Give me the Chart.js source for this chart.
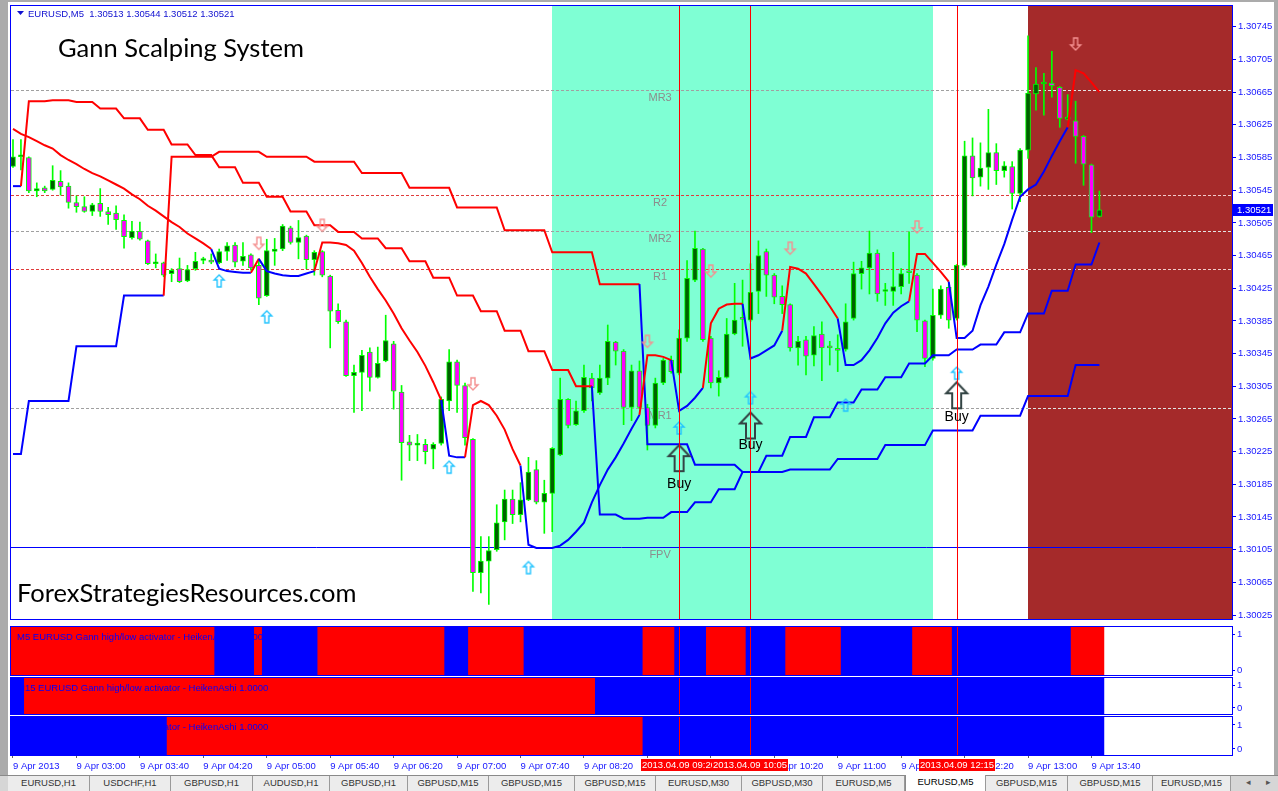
<!DOCTYPE html>
<html>
<head>
  <meta charset="UTF-8">
  <title>Gann Scalping System - EURUSD,M5</title>
  <script src="https://cdn.jsdelivr.net/npm/chart.js"></script>
  <style>
    body { margin: 0; width: 1278px; height: 791px; overflow: hidden; position: relative; background: #ababab; font-family: "Liberation Sans", Arial, sans-serif; }
    #win { position: absolute; left: 8px; top: 2px; width: 1266px; height: 773px; background: #fff; }
    canvas { position: absolute; left: 0; }
    #tabs { position: absolute; left: 0; top: 775px; width: 1278px; height: 16px; background: #d6d6d6; border-top: 1px solid #8a8a8a; box-sizing: border-box; }
    .tab { position: absolute; top: 0; height: 15px; line-height: 14px; font-size: 9.5px; color: #333; text-align: center; background: #ececec; border-right: 1px solid #9a9a9a; box-sizing: border-box; white-space: nowrap; }
    .tab.on { background: #fff; color: #000; top: -1px; height: 16px; border-left: 1px solid #8a8a8a; }
    .nav { position: absolute; top: 1px; font-size: 9px; color: #555; }
  </style>
</head>
<body>
  <div id="win"></div>
  <canvas id="main" width="1278" height="625" style="top:0"></canvas>
  <canvas id="p1" width="1278" height="52" style="top:625px"></canvas>
  <canvas id="p2" width="1278" height="40" style="top:676px"></canvas>
  <canvas id="p3" width="1278" height="60" style="top:715px"></canvas>
  <div id="tabs"></div>

  <script>
    // EURUSD M5, bar 0 = 9 Apr 2013 02:20
    const opens = [
      1.30574,1.30586,1.30585,1.30544,1.30548,1.30546,1.30556,1.30550,1.30530,1.30525,
      1.30519,1.30529,1.30519,1.30517,1.30508,1.30487,1.30495,1.30483,1.30455,1.30456,
      1.30443,1.30449,1.30434,1.30449,1.30459,1.30458,1.30456,1.30470,1.30478,1.30458,
      1.30466,1.30453,1.30416,1.30470,1.30473,1.30499,1.30481,1.30489,1.30460,1.30470,
      1.30440,1.30398,1.30384,1.30318,1.30322,1.30347,1.30316,1.30336,1.30357,1.30298,
      1.30237,1.30233,1.30234,1.30228,1.30235,1.30287,1.30335,1.30306,1.30240,1.30077,
      1.30091,1.30105,1.30139,1.30167,1.30148,1.30166,1.30203,1.30163,1.30174,1.30221,
      1.30289,1.30258,1.30275,1.30315,1.30297,1.30315,1.30359,1.30348,1.30279,1.30324,
      1.30279,1.30257,1.30309,1.30337,1.30321,1.30364,1.30435,1.30473,1.30364,1.30309,
      1.30316,1.30369,1.30388,1.30386,1.30421,1.30470,1.30441,1.30415,1.30405,1.30352,
      1.30362,1.30343,1.30369,1.30353,1.30350,1.30350,1.30388,1.30443,1.30450,1.30468,
      1.30421,1.30421,1.30427,1.30445,1.30441,1.30385,1.30339,1.30392,1.30426,1.30388,
      1.30453,1.30587,1.30561,1.30573,1.30591,1.30569,1.30574,1.30541,1.30594,1.30663,
      1.30675,1.30676,1.30671,1.30632,1.30630,1.30611,1.30576,1.30513
    ];
    const highs = [
      1.30607,1.30607,1.30586,1.30554,1.30550,1.30575,1.30569,1.30554,1.30538,1.30537,
      1.30529,1.30547,1.30524,1.30526,1.30515,1.30507,1.30506,1.30484,1.30467,1.30457,
      1.30449,1.30462,1.30453,1.30469,1.30463,1.30467,1.30473,1.30481,1.30481,1.30481,
      1.30467,1.30461,1.30485,1.30486,1.30503,1.30501,1.30508,1.30490,1.30471,1.30471,
      1.30441,1.30406,1.30386,1.30331,1.30349,1.30352,1.30353,1.30392,1.30360,1.30306,
      1.30245,1.30246,1.30240,1.30236,1.30292,1.30350,1.30337,1.30309,1.30241,1.30121,
      1.30121,1.30160,1.30178,1.30178,1.30187,1.30218,1.30214,1.30190,1.30230,1.30315,
      1.30290,1.30287,1.30331,1.30321,1.30331,1.30380,1.30360,1.30350,1.30331,1.30336,
      1.30283,1.30315,1.30339,1.30342,1.30374,1.30459,1.30495,1.30474,1.30366,1.30324,
      1.30388,1.30431,1.30435,1.30455,1.30483,1.30473,1.30443,1.30428,1.30406,1.30366,
      1.30366,1.30378,1.30384,1.30360,1.30368,1.30406,1.30457,1.30458,1.30495,1.30472,
      1.30431,1.30469,1.30449,1.30494,1.30443,1.30386,1.30424,1.30428,1.30431,1.30454,
      1.30605,1.30609,1.30603,1.30644,1.30602,1.30580,1.30580,1.30596,1.30734,1.30695,
      1.30688,1.30715,1.30672,1.30662,1.30654,1.30612,1.30577,1.30544
    ];
    const lows = [
      1.30573,1.30570,1.30542,1.30537,1.30542,1.30545,1.30539,1.30523,1.30518,1.30518,
      1.30514,1.30513,1.30503,1.30497,1.30474,1.30485,1.30484,1.30454,1.30450,1.30439,
      1.30433,1.30432,1.30433,1.30447,1.30455,1.30455,1.30455,1.30459,1.30451,1.30453,
      1.30447,1.30405,1.30415,1.30453,1.30471,1.30479,1.30461,1.30449,1.30441,1.30439,
      1.30352,1.30382,1.30317,1.30273,1.30275,1.30299,1.30315,1.30335,1.30277,1.30190,
      1.30214,1.30214,1.30210,1.30204,1.30233,1.30275,1.30273,1.30233,1.30054,1.30052,
      1.30038,1.30103,1.30117,1.30137,1.30139,1.30165,1.30161,1.30125,1.30127,1.30220,
      1.30254,1.30257,1.30273,1.30287,1.30295,1.30307,1.30331,1.30258,1.30263,1.30278,
      1.30227,1.30254,1.30307,1.30321,1.30319,1.30360,1.30433,1.30360,1.30303,1.30293,
      1.30315,1.30368,1.30354,1.30384,1.30394,1.30415,1.30406,1.30394,1.30348,1.30331,
      1.30319,1.30330,1.30312,1.30331,1.30323,1.30348,1.30386,1.30424,1.30418,1.30409,
      1.30404,1.30404,1.30418,1.30431,1.30372,1.30329,1.30337,1.30388,1.30376,1.30386,
      1.30451,1.30538,1.30550,1.30546,1.30552,1.30561,1.30522,1.30531,1.30584,1.30643,
      1.30637,1.30659,1.30622,1.30631,1.30578,1.30551,1.30493,1.30512
    ];
    const closes = [
      1.30586,1.30587,1.30544,1.30547,1.30544,1.30557,1.30549,1.30530,1.30525,1.30519,
      1.30527,1.30519,1.30515,1.30509,1.30488,1.30495,1.30485,1.30455,1.30456,1.30441,
      1.30447,1.30433,1.30448,1.30458,1.30460,1.30457,1.30470,1.30477,1.30457,1.30464,
      1.30450,1.30413,1.30471,1.30473,1.30501,1.30481,1.30487,1.30460,1.30469,1.30441,
      1.30397,1.30384,1.30318,1.30322,1.30343,1.30316,1.30333,1.30361,1.30299,1.30236,
      1.30233,1.30234,1.30225,1.30234,1.30289,1.30335,1.30306,1.30242,1.30077,1.30091,
      1.30104,1.30138,1.30167,1.30148,1.30166,1.30200,1.30163,1.30174,1.30229,1.30289,
      1.30257,1.30275,1.30316,1.30303,1.30315,1.30360,1.30348,1.30279,1.30324,1.30279,
      1.30257,1.30309,1.30337,1.30323,1.30364,1.30437,1.30474,1.30362,1.30309,1.30316,
      1.30369,1.30386,1.30387,1.30420,1.30465,1.30441,1.30414,1.30405,1.30352,1.30360,
      1.30342,1.30367,1.30352,1.30352,1.30349,1.30384,1.30443,1.30450,1.30468,1.30418,
      1.30422,1.30427,1.30443,1.30444,1.30386,1.30339,1.30392,1.30424,1.30386,1.30453,
      1.30587,1.30560,1.30572,1.30591,1.30569,1.30575,1.30541,1.30594,1.30664,1.30675,
      1.30676,1.30673,1.30633,1.30633,1.30611,1.30577,1.30512,1.30521
    ];

    // Gann high/low activator lines (M5, M15, M30)
    const m5Line = [
      1.30620,1.30614,1.30610,1.30605,1.30600,1.30596,1.30588,1.30582,1.30577,1.30571,
      1.30566,1.30562,1.30557,1.30552,1.30547,1.30540,1.30534,1.30526,1.30520,1.30513,
      1.30506,1.30500,1.30492,1.30486,1.30480,1.30473,1.30449,1.30446,1.30445,1.30444,
      1.30444,1.30461,1.30446,1.30443,1.30441,1.30440,1.30440,1.30443,1.30446,1.30481,
      1.30481,1.30480,1.30478,1.30471,1.30456,1.30439,1.30424,1.30410,1.30394,1.30376,
      1.30361,1.30347,1.30330,1.30310,1.30288,1.30220,1.30218,1.30218,1.30282,1.30287,
      1.30282,1.30269,1.30252,1.30228,1.30208,1.30111,1.30107,1.30107,1.30107,1.30110,
      1.30117,1.30127,1.30138,1.30163,1.30184,1.30203,1.30218,1.30235,1.30253,1.30270,
      1.30343,1.30343,1.30341,1.30337,1.30275,1.30281,1.30291,1.30303,1.30382,1.30400,
      1.30405,1.30406,1.30406,1.30339,1.30343,1.30349,1.30355,1.30373,1.30451,1.30449,
      1.30443,1.30430,1.30417,1.30403,1.30388,1.30331,1.30331,1.30337,1.30349,1.30364,
      1.30382,1.30395,1.30403,1.30409,1.30467,1.30467,1.30456,1.30445,1.30433,1.30364,
      1.30364,1.30373,1.30404,1.30427,1.30454,1.30479,1.30509,1.30537,1.30546,1.30552,
      1.30568,1.30587,1.30605,1.30622,1.30692,1.30688,1.30677,1.30665
    ];
    const m15Line = [
      1.30550,1.30550,1.30654,1.30654,1.30654,1.30655,1.30655,1.30655,1.30653,1.30653,
      1.30653,1.30645,1.30645,1.30645,1.30633,1.30633,1.30633,1.30619,1.30619,1.30619,
      1.30601,1.30601,1.30601,1.30588,1.30588,1.30588,1.30573,1.30573,1.30573,1.30554,
      1.30554,1.30554,1.30537,1.30537,1.30537,1.30519,1.30519,1.30519,1.30502,1.30502,
      1.30502,1.30494,1.30494,1.30494,1.30486,1.30486,1.30486,1.30474,1.30474,1.30474,
      1.30458,1.30458,1.30458,1.30438,1.30438,1.30438,1.30416,1.30416,1.30416,1.30397,
      1.30397,1.30397,1.30373,1.30373,1.30373,1.30348,1.30348,1.30348,1.30325,1.30325,
      1.30325,1.30305,1.30305,1.30305,1.30148,1.30148,1.30148,1.30143,1.30143,1.30143,
      1.30144,1.30144,1.30144,1.30151,1.30151,1.30151,1.30163,1.30163,1.30163,1.30179,
      1.30179,1.30179,1.30200,1.30200,1.30200,1.30220,1.30220,1.30220,1.30243,1.30243,
      1.30243,1.30267,1.30267,1.30267,1.30285,1.30285,1.30285,1.30301,1.30301,1.30301,
      1.30316,1.30316,1.30316,1.30333,1.30333,1.30333,1.30343,1.30343,1.30343,1.30350,
      1.30350,1.30350,1.30356,1.30356,1.30356,1.30371,1.30371,1.30371,1.30394,1.30394,
      1.30394,1.30422,1.30422,1.30422,1.30454,1.30454,1.30454,1.30481
    ];
    const m30Line = [
      1.30222,1.30222,1.30287,1.30287,1.30287,1.30287,1.30287,1.30287,1.30354,1.30354,
      1.30354,1.30354,1.30354,1.30354,1.30416,1.30416,1.30416,1.30416,1.30416,1.30416,
      1.30586,1.30586,1.30586,1.30586,1.30586,1.30586,1.30592,1.30592,1.30592,1.30592,
      1.30592,1.30592,1.30586,1.30586,1.30586,1.30586,1.30586,1.30586,1.30580,1.30580,
      1.30580,1.30580,1.30580,1.30580,1.30566,1.30566,1.30566,1.30566,1.30566,1.30566,
      1.30548,1.30548,1.30548,1.30548,1.30548,1.30548,1.30524,1.30524,1.30524,1.30524,
      1.30524,1.30524,1.30496,1.30496,1.30496,1.30496,1.30496,1.30496,1.30469,1.30469,
      1.30469,1.30469,1.30469,1.30469,1.30430,1.30430,1.30430,1.30430,1.30430,1.30430,
      1.30234,1.30234,1.30234,1.30234,1.30234,1.30234,1.30209,1.30209,1.30209,1.30209,
      1.30209,1.30209,1.30200,1.30200,1.30200,1.30200,1.30200,1.30200,1.30203,1.30203,
      1.30203,1.30203,1.30203,1.30203,1.30216,1.30216,1.30216,1.30216,1.30216,1.30216,
      1.30233,1.30233,1.30233,1.30233,1.30233,1.30233,1.30251,1.30251,1.30251,1.30251,
      1.30251,1.30251,1.30269,1.30269,1.30269,1.30269,1.30269,1.30269,1.30293,1.30293,
      1.30293,1.30293,1.30293,1.30293,1.30331,1.30331,1.30331,1.30331
    ];

    // activator state runs: first bar of each run, state 1 = red (sell), 0 = blue (buy)
    const m5RunStart = [0, 26, 31, 32, 39, 55, 58, 65, 80, 84, 88, 93, 98, 105, 114, 119, 134];
    const m5RunState = [1, 0, 1, 0, 1, 0, 1, 0, 1, 0, 1, 0, 1, 0, 1, 0, 1];
    const m15RunStart = [0, 2, 74];
    const m15RunState = [0, 1, 0];
    const m30RunStart = [0, 20, 80];
    const m30RunState = [0, 1, 0];

    const levelNames = ['MR3', 'R2', 'MR2', 'R1', 'MR1', 'FPV'];
    const levelPrices = [1.30668, 1.30539, 1.30495, 1.30449, 1.30279, 1.30108];

    const upArrowBars = [26, 32, 55, 65, 84, 93, 105, 119];
    const upArrowPrices = [1.30434, 1.30390, 1.30206, 1.30083, 1.30254, 1.30291, 1.30282, 1.30321];
    const downArrowBars = [31, 39, 58, 80, 88, 98, 114, 134];
    const downArrowPrices = [1.30480, 1.30502, 1.30308, 1.30360, 1.30446, 1.30474, 1.30500, 1.30724];

    const buyBars = [84, 93, 119];
    const buyArrowPrices = [1.30217, 1.30257, 1.30294];
    const buyTextPrices = [1.30185, 1.30233, 1.30267];

    const vlineBars = [84, 93, 119];
    const vlineLabels = ['2013.04.09 09:20', '2013.04.09 10:05', '2013.04.09 12:15'];

    const sessionFrom = [68, 128];
    const sessionTo = [116, 176];

    const priceTicks = [1.30025, 1.30065, 1.30105, 1.30145, 1.30185, 1.30225, 1.30265, 1.30305, 1.30345,
      1.30385, 1.30425, 1.30465, 1.30505, 1.30545, 1.30585, 1.30625, 1.30665, 1.30705, 1.30745];
    const timeTickBars = [0, 8, 16, 24, 32, 40, 48, 56, 64, 72, 80, 88, 96, 104, 112, 120, 128, 136];
    const timeTickLabels = ['9 Apr 2013', '9 Apr 03:00', '9 Apr 03:40', '9 Apr 04:20', '9 Apr 05:00', '9 Apr 05:40',
      '9 Apr 06:20', '9 Apr 07:00', '9 Apr 07:40', '9 Apr 08:20', '9 Apr 09:00', '9 Apr 09:40', '9 Apr 10:20',
      '9 Apr 11:00', '9 Apr 11:40', '9 Apr 12:20', '9 Apr 13:00', '9 Apr 13:40'];

    const tabNames = ['EURUSD,H1', 'USDCHF,H1', 'GBPUSD,H1', 'AUDUSD,H1', 'GBPUSD,H1', 'GBPUSD,M15', 'GBPUSD,M15',
      'GBPUSD,M15', 'EURUSD,M30', 'GBPUSD,M30', 'EURUSD,M5', 'EURUSD,M5', 'GBPUSD,M15', 'GBPUSD,M15', 'EURUSD,M15'];
    const tabWidths = [82, 81, 82, 77, 78, 81, 86, 81, 86, 81, 82, 81, 82, 85, 78];

    // ---------------------------------------------------------------

    const RED = '#ff0000', BLUE = '#0000ff', LIME = '#00ff00', BULL = '#006000', BEAR = '#ff00ff';
    const AXIS_BLUE = '#1515ff';
    const AXIS_FONT = { family: 'Liberation Sans', size: 9.5 };
    const X_MIN = -0.2522, X_MAX = 153.72;
    const Y_MIN = 1.3002014, Y_MAX = 1.307705;
    const LEVEL_LABEL_BAR = 81.6;
    Chart.defaults.font.family = 'Liberation Sans';

    const bars = opens.map((_, i) => i);
    const last = bars.length - 1;

    function expandRuns(starts, states, n) {
      const out = [];
      for (let r = 0; r < starts.length; r++) {
        const end = r + 1 < starts.length ? starts[r + 1] : n;
        for (let i = starts[r]; i < end; i++) out.push(states[r]);
      }
      return out;
    }
    const m5State = expandRuns(m5RunStart, m5RunState, bars.length);
    const m15State = expandRuns(m15RunStart, m15RunState, bars.length);
    const m30State = expandRuns(m30RunStart, m30RunState, bars.length);

    // hollow arrow marker used as point style
    function arrowCanvas(w, h, headH, shaftW, down, stroke, lw) {
      const pad = Math.ceil(lw) + 1;
      const c = document.createElement('canvas');
      c.width = w + pad * 2; c.height = h + pad * 2;
      const g = c.getContext('2d');
      g.translate(pad, pad);
      if (down) { g.translate(0, h); g.scale(1, -1); }
      const cx = w / 2, s = shaftW / 2;
      g.beginPath();
      g.moveTo(cx, 0); g.lineTo(w, headH); g.lineTo(cx + s, headH); g.lineTo(cx + s, h);
      g.lineTo(cx - s, h); g.lineTo(cx - s, headH); g.lineTo(0, headH); g.closePath();
      g.strokeStyle = stroke; g.lineWidth = lw; g.stroke();
      return c;
    }
    const upArrow = arrowCanvas(10, 12, 5, 4, false, '#22c4ff', 1.4);
    const downArrow = arrowCanvas(10, 12, 5, 4, true, '#f49090', 1.4);
    const buyArrow = arrowCanvas(21, 26, 11, 9, false, '#334444', 2);

    function xScale(extra) {
      return Object.assign({ type: 'linear', min: X_MIN, max: X_MAX, offset: false, display: false,
        grid: { offset: false } }, extra || {});
    }

    function activatorLine(values, states, order) {
      return {
        type: 'line', data: bars.map(i => ({ x: i, y: values[i] })),
        borderColor: RED, borderWidth: 2, pointRadius: 0, tension: 0, order,
        segment: { borderColor: c => states[c.p1DataIndex] ? RED : BLUE }
      };
    }

    function markers(barList, prices, style, order) {
      return {
        type: 'line', data: barList.map((b, k) => ({ x: b, y: prices[k] })),
        showLine: false, pointStyle: style, pointRadius: 5, order
      };
    }

    function frame(ctx, a) {
      ctx.strokeStyle = BLUE; ctx.lineWidth = 1;
      ctx.strokeRect(a.left - 0.5, a.top - 0.5, a.right - a.left + 1, a.bottom - a.top + 1);
    }

    function drawVlines(ctx, a, x) {
      ctx.fillStyle = RED;
      vlineBars.forEach(b => {
        const px = Math.round(x.getPixelForValue(b));
        ctx.fillRect(px, a.top, 1, a.bottom - a.top);
      });
    }

    const mainDecor = {
      id: 'mainDecor',
      beforeDatasetsDraw(chart) {
        const { ctx, chartArea: a, scales: { x, y } } = chart;
        ctx.save();
        ctx.beginPath(); ctx.rect(a.left, a.top, a.right - a.left, a.bottom - a.top); ctx.clip();
        const sessionColors = ['#7fffd4', '#a52a2a'];
        sessionFrom.forEach((b, k) => {
          const x0 = Math.round(x.getPixelForValue(b));
          const x1 = Math.round(Math.min(x.getPixelForValue(sessionTo[k]), a.right));
          ctx.fillStyle = sessionColors[k];
          ctx.fillRect(x0, a.top, x1 - x0, a.bottom - a.top);
        });
        const brownX = Math.round(x.getPixelForValue(sessionFrom[1]));
        levelNames.forEach((name, k) => {
          const py = Math.round(y.getPixelForValue(levelPrices[k])) + 0.5;
          const isFpv = name === 'FPV', isR = name[0] === 'R';
          ctx.lineWidth = 1;
          ctx.setLineDash(isFpv ? [] : [3, 2]);
          ctx.strokeStyle = isFpv ? BLUE : (isR ? '#e03c3c' : '#a0a0a0');
          ctx.beginPath(); ctx.moveTo(a.left, py); ctx.lineTo(isFpv ? a.right : brownX, py); ctx.stroke();
          if (!isFpv) {
            ctx.strokeStyle = isR ? '#f2cccc' : '#e4e4e4';
            ctx.beginPath(); ctx.moveTo(brownX, py); ctx.lineTo(a.right, py); ctx.stroke();
          }
          ctx.setLineDash([]);
          ctx.fillStyle = '#8c8c8c';
          ctx.font = '11px "Liberation Sans"';
          ctx.textAlign = 'center'; ctx.textBaseline = 'top';
          ctx.fillText(name, x.getPixelForValue(LEVEL_LABEL_BAR), py + 2);
        });
        ctx.restore();
      },
      afterDatasetsDraw(chart) {
        const { ctx, chartArea: a, scales: { x, y } } = chart;
        ctx.save();
        drawVlines(ctx, a, x);
        ctx.fillStyle = '#000';
        ctx.font = '14px "Liberation Sans"';
        ctx.textAlign = 'center'; ctx.textBaseline = 'middle';
        buyBars.forEach((b, k) => ctx.fillText('Buy', x.getPixelForValue(b), y.getPixelForValue(buyTextPrices[k])));
        ctx.font = '25.5px "Comic Sans MS", Lato, sans-serif';
        ctx.textAlign = 'left'; ctx.textBaseline = 'alphabetic';
        ctx.fillText('Gann Scalping System', 58, 57);
        ctx.fillText('ForexStrategiesResources.com', 17, 602);
        ctx.restore();
      },
      afterDraw(chart) {
        const { ctx, chartArea: a, scales: { y } } = chart;
        ctx.save();
        frame(ctx, a);
        const py = Math.round(y.getPixelForValue(closes[last]));
        ctx.fillStyle = BLUE;
        ctx.fillRect(a.right + 1, py - 6, 40, 12);
        ctx.fillStyle = '#fff';
        ctx.font = '9.5px "Liberation Sans"';
        ctx.textAlign = 'left'; ctx.textBaseline = 'middle';
        ctx.fillText(closes[last].toFixed(5), a.right + 5, py + 0.5);
        // header: symbol and OHLC of the current bar
        ctx.fillStyle = '#1010d0';
        ctx.beginPath(); ctx.moveTo(a.left + 6, a.top + 5); ctx.lineTo(a.left + 13, a.top + 5); ctx.lineTo(a.left + 9.5, a.top + 9); ctx.fill();
        const ohlc = [opens[last], highs[last], lows[last], closes[last]].map(v => v.toFixed(5)).join(' ');
        ctx.fillText('EURUSD,M5  ' + ohlc, a.left + 17, a.top + 8);
        ctx.restore();
      }
    };

    new Chart(document.getElementById('main'), {
      type: 'bar',
      data: {
        datasets: [
          { type: 'bar', data: bars.map(i => ({ x: i, y: [lows[i], highs[i]] })), backgroundColor: LIME,
            barThickness: 1, grouped: false, order: 20 },
          { type: 'bar', data: bars.map(i => ({ x: i, y: [Math.min(opens[i], closes[i]), Math.max(opens[i], closes[i])] })),
            backgroundColor: bars.map(i => closes[i] >= opens[i] ? BULL : BEAR), borderColor: LIME, borderWidth: 1,
            borderSkipped: false, barThickness: 5, minBarLength: 2, grouped: false, order: 19 },
          activatorLine(m30Line, m30State, 8),
          activatorLine(m15Line, m15State, 7),
          activatorLine(m5Line, m5State, 6),
          markers(upArrowBars, upArrowPrices, upArrow, 3),
          markers(downArrowBars, downArrowPrices, downArrow, 2),
          markers(buyBars, buyArrowPrices, buyArrow, 1)
        ]
      },
      options: {
        responsive: false, animation: false, events: [], devicePixelRatio: 1,
        layout: { padding: { left: 11, top: 5, right: 0, bottom: 2 } },
        plugins: { legend: { display: false }, tooltip: { enabled: false } },
        scales: {
          x: xScale(),
          y: {
            position: 'right', min: Y_MIN, max: Y_MAX, bounds: 'data',
            afterBuildTicks: s => { s.ticks = priceTicks.map(v => ({ value: v })); },
            afterFit: s => { s.width = 46; s.paddingTop = 0; s.paddingBottom = 0; },
            ticks: { color: AXIS_BLUE, font: AXIS_FONT, padding: 2, callback: v => v.toFixed(5) },
            grid: { drawOnChartArea: false, tickLength: 4, color: BLUE },
            border: { display: false }
          }
        }
      },
      plugins: [mainDecor]
    });

    function panelChart(id, title, states, tickLow, tickHigh, withTime) {
      const decor = {
        id: 'panelDecor',
        afterDatasetsDraw(chart) {
          const { ctx, chartArea: a, scales: { x } } = chart;
          ctx.save();
          ctx.beginPath(); ctx.rect(a.left, a.top, a.right - a.left, a.bottom - a.top); ctx.clip();
          ctx.fillStyle = BLUE;
          ctx.font = '9.5px "Liberation Sans"';
          ctx.textAlign = 'left'; ctx.textBaseline = 'middle';
          ctx.fillText(title, a.left + 6, a.top + 10);
          drawVlines(ctx, a, x);
          ctx.restore();
        },
        afterDraw(chart) {
          const { ctx, chartArea: a, scales: { x } } = chart;
          ctx.save();
          frame(ctx, a);
          if (withTime) {
            ctx.font = '9.5px "Liberation Sans"';
            ctx.textAlign = 'center'; ctx.textBaseline = 'middle';
            vlineBars.forEach((b, k) => {
              const px = Math.round(x.getPixelForValue(b));
              const w = Math.ceil(ctx.measureText(vlineLabels[k]).width) + 2;
              ctx.fillStyle = RED;
              ctx.fillRect(px - Math.round(w / 2), a.bottom + 4, w, 12);
              ctx.fillStyle = '#fff';
              ctx.fillText(vlineLabels[k], px, a.bottom + 10.5);
            });
          }
          ctx.restore();
        }
      };
      const x = withTime ? xScale({
        display: true, position: 'bottom',
        afterBuildTicks: s => { s.ticks = timeTickBars.map(v => ({ value: v })); },
        afterFit: s => { s.height = 20; s.paddingLeft = 0; s.paddingRight = 0; },
        ticks: { autoSkip: false, maxRotation: 0, align: 'start', padding: 3, color: AXIS_BLUE, font: AXIS_FONT,
          callback: (v, idx) => timeTickLabels[idx] },
        grid: { drawOnChartArea: false, tickLength: 3, color: '#606060', offset: false },
        border: { display: false }
      }) : xScale();
      return new Chart(document.getElementById(id), {
        type: 'bar',
        data: {
          datasets: [{
            data: bars.map(i => ({ x: i, y: 1 })),
            backgroundColor: bars.map(i => states[i] ? RED : BLUE),
            barThickness: 9, grouped: false, borderWidth: 0
          }]
        },
        options: {
          responsive: false, animation: false, events: [], devicePixelRatio: 1,
          layout: { padding: { left: 11, top: 2, right: 0, bottom: withTime ? 0 : 2 } },
          plugins: { legend: { display: false }, tooltip: { enabled: false } },
          scales: {
            x,
            y: {
              position: 'right', min: 0, max: 1, bounds: 'data',
              afterBuildTicks: s => { s.ticks = [{ value: tickLow }, { value: tickHigh }]; },
              afterFit: s => { s.width = 46; s.paddingTop = 0; s.paddingBottom = 0; },
              ticks: { color: AXIS_BLUE, font: AXIS_FONT, padding: 2, callback: v => (v > 0.5 ? '1' : '0') },
              grid: { drawOnChartArea: false, tickLength: 3, color: BLUE },
              border: { display: false }
            }
          }
        },
        plugins: [decor]
      });
    }

    panelChart('p1', 'M5 EURUSD Gann high/low activator - HeikenAshi 1.0000', m5State, 0.1, 0.85, false);
    panelChart('p2', 'M15 EURUSD Gann high/low activator - HeikenAshi 1.0000', m15State, 0.17, 0.8, false);
    panelChart('p3', 'M30 EURUSD Gann high/low activator - HeikenAshi 1.0000', m30State, 0.16, 0.79, true);

    // terminal chart tabs
    const tabs = document.getElementById('tabs');
    let tx = 8;
    tabNames.forEach((name, k) => {
      const t = document.createElement('div');
      t.className = 'tab' + (k === 11 ? ' on' : '');
      t.style.left = tx + 'px';
      t.style.width = tabWidths[k] + 'px';
      t.textContent = name;
      tabs.appendChild(t);
      tx += tabWidths[k];
    });
    ['\u25C2', '\u25B8'].forEach((s, k) => {
      const n = document.createElement('div');
      n.className = 'nav';
      n.style.left = (1246 + k * 20) + 'px';
      n.textContent = s;
      tabs.appendChild(n);
    });
  </script>
</body>
</html>
